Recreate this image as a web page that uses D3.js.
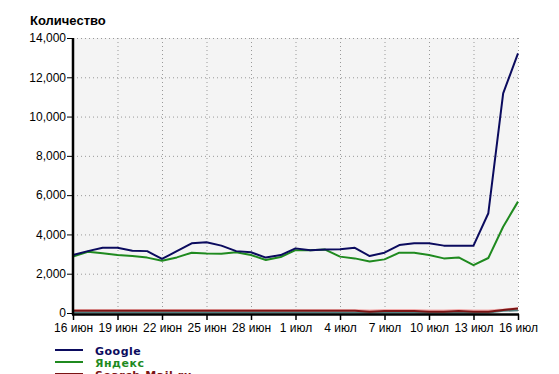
<!DOCTYPE html>
<html>
<head>
<meta charset="utf-8">
<script src="https://cdn.jsdelivr.net/npm/d3@7"></script>
<style>
html,body{margin:0;padding:0;background:#fff;overflow:hidden;}
svg{display:block;}
</style>
</head>
<body>
<script>
const days = ["16.06","17.06","18.06","19.06","20.06","21.06","22.06","23.06","24.06","25.06",
  "26.06","27.06","28.06","29.06","30.06","01.07","02.07","03.07","04.07","05.07",
  "06.07","07.07","08.07","09.07","10.07","11.07","12.07","13.07","14.07","15.07","16.07"];
const xTickLabels = ["16 июн","19 июн","22 июн","25 июн","28 июн","1 июл","4 июл","7 июл","10 июл","13 июл","16 июл"];
const yTicks = [0,2000,4000,6000,8000,10000,12000,14000];
const google = [2950,3150,3320,3320,3170,3150,2750,3150,3550,3600,
  3430,3150,3090,2820,2950,3290,3200,3230,3250,3320,
  2900,3070,3460,3550,3550,3430,3430,3430,5080,11180,13220];
const yandex = [2870,3120,3040,2950,2900,2820,2660,2830,3070,3030,
  3020,3090,2950,2700,2850,3200,3200,3230,2870,2780,
  2620,2730,3070,3070,2950,2780,2830,2440,2800,4390,5670];
const mail = [110,110,110,110,110,110,110,110,110,110,
  110,110,110,110,110,110,110,110,110,110,
  60,100,100,100,60,60,100,60,60,150,230];
const rambler = [170,170,170,170,170,170,170,170,170,170,
  170,170,170,170,170,170,170,170,170,170,
  140,160,170,170,140,140,160,140,140,190,260];
const other = [20,20,20,20,20,20,20,20,20,20,
  20,20,20,20,20,20,20,20,20,20,
  10,20,20,20,10,10,20,10,20,110,140];

const W = 559, H = 374;
const svg = d3.select("body").append("svg").attr("width", W).attr("height", H);

const x = d3.scaleLinear().domain([0, days.length - 1]).range([73, 518]);
const y = d3.scaleLinear().domain([0, 14000]).range([313, 38]);

// plot background
svg.append("rect").attr("x", x(0)).attr("y", y(14000))
  .attr("width", x(days.length - 1) - x(0)).attr("height", y(0) - y(14000))
  .attr("fill", "#f4f4f4");

// grid
const tickIdx = xTickLabels.map((d, i) => i * 3);
svg.append("g").selectAll("line").data(tickIdx.slice(1)).join("line")
  .attr("x1", d => x(d) + 0.5).attr("x2", d => x(d) + 0.5)
  .attr("y1", y(14000)).attr("y2", y(0))
  .attr("stroke", "#999").attr("stroke-width", 1).attr("stroke-dasharray", "1,3");
svg.append("g").selectAll("line").data(yTicks.slice(1)).join("line")
  .attr("x1", x(0)).attr("x2", x(days.length - 1))
  .attr("y1", d => y(d) + 0.5).attr("y2", d => y(d) + 0.5)
  .attr("stroke", "#999").attr("stroke-width", 1).attr("stroke-dasharray", "1,3");

// lines
const line = d3.line().x((d, i) => x(i)).y(d => y(d));
const series = [
  {v: other, c: "#4f7f7f", w: 2},
  {v: rambler, c: "#f2aaaa", w: 1.5},
  {v: mail, c: "#7a1414", w: 2},
  {v: yandex, c: "#1f8a1f", w: 2},
  {v: google, c: "#0b0b5e", w: 2}
];
svg.append("g").selectAll("path").data(series).join("path")
  .attr("d", d => line(d.v)).attr("fill", "none")
  .attr("stroke", d => d.c).attr("stroke-width", d => d.w)
  .attr("stroke-linejoin", "round");

// axes
const yAxis = d3.axisLeft(y).tickValues(yTicks).tickFormat(d3.format(",")).tickSize(5).tickPadding(1);
const gy = svg.append("g").attr("transform", "translate(72,0)").call(yAxis);
gy.select(".domain").remove();
gy.selectAll("text").attr("font-family", "Liberation Sans, Arial, sans-serif").attr("font-size", 12).attr("fill", "#000");
gy.selectAll("line").attr("stroke", "#000");

const xAxis = d3.axisBottom(x).tickValues(tickIdx).tickFormat((d, i) => xTickLabels[i]).tickSize(6).tickPadding(3);
const gx = svg.append("g").attr("transform", "translate(0,314)").call(xAxis);
gx.select(".domain").remove();
gx.selectAll("text").attr("font-family", "Liberation Sans, Arial, sans-serif").attr("font-size", 12).attr("fill", "#000");
gx.selectAll("line").attr("stroke", "#000").attr("stroke-width", 1.5);

svg.append("line").attr("x1", 73).attr("x2", 73).attr("y1", 38).attr("y2", 315)
  .attr("stroke", "#000").attr("stroke-width", 2.5);
svg.append("line").attr("x1", 72).attr("x2", 519).attr("y1", 314.5).attr("y2", 314.5)
  .attr("stroke", "#000").attr("stroke-width", 2.5);

// title
svg.append("text").attr("x", 30).attr("y", 25).text("Количество")
  .attr("font-family", "Liberation Sans, Arial, sans-serif").attr("font-weight", "bold")
  .attr("font-size", 13).attr("fill", "#000");

// legend
const legendNames = ["Google", "Яндекс", "Search.Mail.ru"];
const legendColors = ["#0b0b5e", "#1f8a1f", "#7a1414"];
const lg = svg.append("g").selectAll("g").data(legendNames).join("g")
  .attr("transform", (d, i) => `translate(0,${350 + i * 12})`);
lg.append("line").attr("x1", 55).attr("x2", 83).attr("y1", 0).attr("y2", 0)
  .attr("stroke", (d, i) => legendColors[i]).attr("stroke-width", 2);
lg.append("text").attr("x", 95).attr("y", 5).text(d => d)
  .attr("font-family", "DejaVu Sans, Verdana, sans-serif").attr("font-weight", "bold")
  .attr("font-size", 11).attr("letter-spacing", 0.5).attr("fill", (d, i) => legendColors[i]);
</script>
</body>
</html>
